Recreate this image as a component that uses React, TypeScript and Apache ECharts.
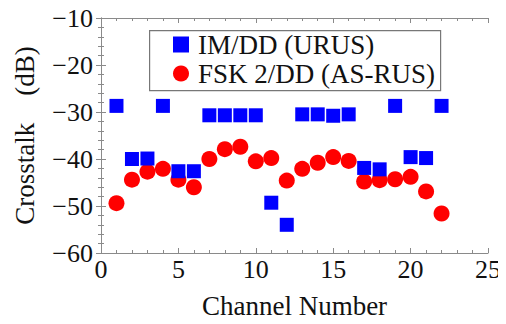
import React, { useEffect, useRef } from "react";
import * as echarts from "echarts";

const channels = [1, 2, 3, 4, 5, 6, 7, 8, 9, 10, 11, 12, 13, 14, 15, 16, 17, 18, 19, 20, 21, 22];
const imdd = [-28.7, -40.0, -39.9, -28.7, -42.6, -42.6, -30.7, -30.7, -30.7, -30.7, -49.3, -54.0, -30.5, -30.5, -30.8, -30.5, -41.9, -42.2, -28.7, -39.6, -39.8, -28.7];
const fsk = [-49.4, -44.4, -42.7, -42.1, -44.4, -46.0, -40.0, -37.9, -37.4, -40.5, -39.8, -44.6, -42.1, -40.8, -39.6, -40.4, -44.8, -44.5, -44.3, -43.8, -46.9, -51.6];
const seriesNames = ["IM/DD (URUS)", "FSK 2/DD (AS-RUS)"];
const xTitle = "Channel Number";
const yTitle = "Crosstalk    (dB)";

const FONT = "'Liberation Serif', 'DejaVu Serif', serif";
const AXIS_COLOR = "#8a8a8a";

export default function App() {
  const ref = useRef<HTMLDivElement>(null);
  useEffect(() => {
    const chart = echarts.init(ref.current!, null, { renderer: "svg" });
    const fmt = (v: number) => String(v).replace("-", "\u2212");
    const common = {
      axisLine: { show: true, lineStyle: { color: AXIS_COLOR, width: 1 } },
      axisTick: { show: true, inside: true, length: 5, lineStyle: { color: AXIS_COLOR } },
      minorTick: { show: true, splitNumber: 5, length: 3, lineStyle: { color: AXIS_COLOR } },
      splitLine: { show: false },
    };
    chart.setOption({
      animation: false,
      textStyle: { fontFamily: FONT },
      grid: { left: 101, right: 18, top: 18, bottom: 65 },
      xAxis: [
        {
          type: "value", min: 0, max: 25, interval: 5, position: "bottom",
          ...common,
          axisLabel: { fontFamily: FONT, fontSize: 26, color: "#111", margin: 3 },
          name: xTitle, nameLocation: "middle", nameGap: 39,
          nameTextStyle: { fontFamily: FONT, fontSize: 27, color: "#111" },
        },
        {
          type: "value", min: 0, max: 25, interval: 5, position: "top",
          ...common, axisLabel: { show: false },
        },
      ],
      yAxis: [
        {
          type: "value", min: -60, max: -10, interval: 10, position: "left",
          ...common,
          axisLabel: { fontFamily: FONT, fontSize: 26, color: "#111", margin: 8, formatter: fmt },
          name: yTitle, nameLocation: "middle", nameGap: 63, nameRotate: 90,
          nameTextStyle: { fontFamily: FONT, fontSize: 27, color: "#111" },
        },
        {
          type: "value", min: -60, max: -10, interval: 10, position: "right",
          ...common, axisLabel: { show: false },
        },
      ],
      legend: {
        orient: "vertical", left: 173, top: 31, padding: 0,
        itemWidth: 16, itemHeight: 16, itemGap: 2,
        textStyle: { fontFamily: FONT, fontSize: 27, color: "#111", padding: [0, 0, 0, 4] },
        data: [
          { name: seriesNames[0], icon: "rect" },
          { name: seriesNames[1], icon: "circle" },
        ],
      },
      graphic: [
        {
          type: "rect", left: 149, top: 30, z: 0,
          shape: { width: 291, height: 60 },
          style: { fill: "#fff", stroke: "#777", lineWidth: 1.2 },
        },
      ],
      series: [
        {
          name: seriesNames[0], type: "scatter", symbol: "rect", symbolSize: 14,
          itemStyle: { color: "#0000ff", opacity: 1 },
          data: channels.map((c, i) => [c, imdd[i]]), z: 3,
        },
        {
          name: seriesNames[1], type: "scatter", symbol: "circle", symbolSize: 16,
          itemStyle: { color: "#ff0000", opacity: 1 },
          data: channels.map((c, i) => [c, fsk[i]]), z: 2,
        },
      ],
    });
    return () => chart.dispose();
  }, []);
  return <div ref={ref} style={{ width: 506, height: 324, margin: -8, background: "#fff" }} />;
}
